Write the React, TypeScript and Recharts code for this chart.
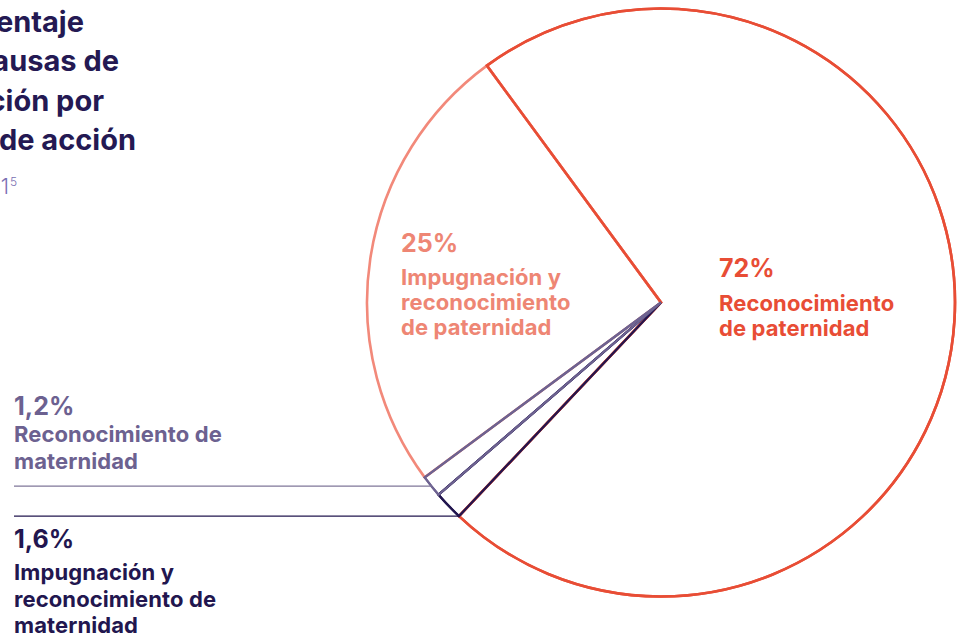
import React from 'react';
import { PieChart, Pie, Cell } from 'recharts';

// ---- data ----
const categories = [
  'Reconocimiento de paternidad',
  'Impugnación y reconocimiento de paternidad',
  'Reconocimiento de maternidad',
  'Impugnación y reconocimiento de maternidad',
];
const values = [72, 25, 1.2, 1.6];
const percentLabels = ['72%', '25%', '1,2%', '1,6%'];
const labelLines = [
  ['Reconocimiento', 'de paternidad'],
  ['Impugnación y', 'reconocimiento', 'de paternidad'],
  ['Reconocimiento de', 'maternidad'],
  ['Impugnación y', 'reconocimiento de', 'maternidad'],
];
const titleLines = ['Porcentaje', 'de causas de', 'filiación por', 'tipo de acción'];
const subtitleText = '2021';
const subtitleSup = '5';

// ---- styles ----
const strokeColors = ['#e84d35', '#f2897a', '#6e6391', '#22164f'];
const textColors = ['#e84d35', '#ee8674', '#6c6190', '#22164f'];
const leaderColors = ['', '', '#7f7699', '#22164f'];
const FONT = 'Inter, "Noto Sans", sans-serif';

const CX = 661;
const CY = 302.5;
const R = 294;
const START = 226.6;

// title line right edges (title is cut by the left edge of the picture)
const titleRight = [84, 119, 104, 136];

// label layout: x, percent baseline, first line baseline, line step
const labelLayout = [
  { x: 719, py: 277, ly: 311, step: 24.5 },
  { x: 401, py: 252, ly: 285, step: 25 },
  { x: 14, py: 415, ly: 442, step: 26.5 },
  { x: 14, py: 548, ly: 580, step: 26.7 },
];

const data = categories.map((name, i) => ({ name, value: values[i] }));

const RAD = Math.PI / 180;

const renderLabel = (props: any) => {
  const { cx, cy, outerRadius, midAngle, endAngle, index } = props;
  const lay = labelLayout[index];
  const color = textColors[index];
  let leader = null;
  if (index >= 2) {
    const ang = index === 3 ? (endAngle ?? midAngle) : midAngle;
    const ax = cx + outerRadius * Math.cos(-ang * RAD);
    const ay = cy + outerRadius * Math.sin(-ang * RAD);
    leader = (
      <line x1={lay.x} y1={ay} x2={ax} y2={ay} stroke={leaderColors[index]} strokeWidth={1.3} />
    );
  }
  return (
    <g key={`lab-${index}`}>
      {leader}
      <text x={lay.x} y={lay.py} fill={color} fontFamily={FONT} fontWeight={700} fontSize={25}>
        {percentLabels[index]}
      </text>
      {labelLines[index].map((t, j) => (
        <text
          key={j}
          x={lay.x}
          y={lay.ly + j * lay.step}
          fill={color}
          fontFamily={FONT}
          fontWeight={700}
          fontSize={22}
          letterSpacing={0.1}
        >
          {t}
        </text>
      ))}
    </g>
  );
};

const pieCommon = {
  data,
  dataKey: 'value',
  nameKey: 'name',
  cx: CX,
  cy: CY,
  innerRadius: 0,
  outerRadius: R,
  startAngle: START,
  endAngle: START + 360,
  isAnimationActive: false,
  labelLine: false,
} as any;

export default function App() {
  return (
    <div
      style={{
        position: 'absolute',
        left: 0,
        top: 0,
        width: 959,
        height: 642,
        overflow: 'hidden',
        background: '#ffffff',
      }}
    >
      <svg
        width={959}
        height={642}
        style={{ position: 'absolute', left: 0, top: 0 }}
      >
        {titleLines.map((t, i) => (
          <text
            key={i}
            x={titleRight[i]}
            y={31.7 + i * 39.5}
            textAnchor="end"
            fill="#241953"
            fontFamily={FONT}
            fontWeight={700}
            fontSize={29}
          >
            {t}
          </text>
        ))}
        <text x={9} y={194} textAnchor="end" fill="#7a6fb3" fontFamily={FONT} fontWeight={300} fontSize={21}>
          {subtitleText}
        </text>
        <text x={10} y={186} fill="#7a6fb3" fontFamily={FONT} fontWeight={300} fontSize={12}>
          {subtitleSup}
        </text>
      </svg>
      <div style={{ position: 'absolute', left: 0, top: 0 }}>
        <PieChart width={959} height={642} margin={{ top: 0, right: 0, bottom: 0, left: 0 }}>
          <Pie {...pieCommon} label={renderLabel}>
            {data.map((d, i) => (
              <Cell key={`a-${i}`} fill="none" stroke={strokeColors[i]} strokeWidth={i < 2 ? 2.6 : 2.2} />
            ))}
          </Pie>
          <Pie {...pieCommon} label={false}>
            {data.map((d, i) => (
              <Cell
                key={`b-${i}`}
                fill="none"
                stroke={i === 0 || i === 3 ? strokeColors[i] : 'none'}
                strokeWidth={i === 0 ? 2.6 : 2.2}
              />
            ))}
          </Pie>
          <Pie {...pieCommon} label={false}>
            {data.map((d, i) => (
              <Cell key={`c-${i}`} fill="none" stroke={i === 2 ? strokeColors[i] : 'none'} strokeWidth={2.2} />
            ))}
          </Pie>
        </PieChart>
      </div>
    </div>
  );
}
